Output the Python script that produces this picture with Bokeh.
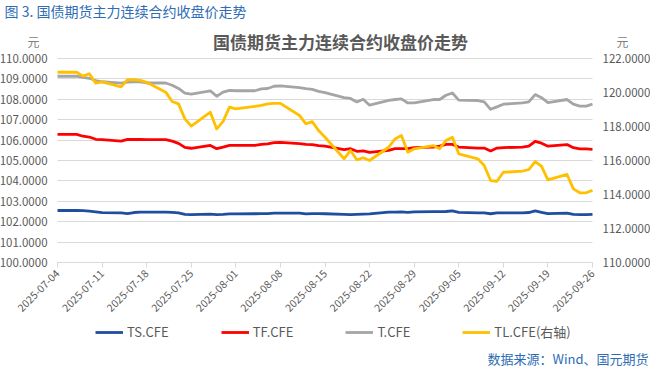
import math
import pandas as pd
from bokeh.plotting import figure
from bokeh.models import (Range1d, LinearAxis, FixedTicker, PrintfTickFormatter,
                          DatetimeTickFormatter, Label, Legend, LegendItem, ColumnDataSource)
from bokeh.embed import file_html
from bokeh.resources import INLINE

# ---------------- data ----------------
dates = [
    "2025-07-04",
    "2025-07-07", "2025-07-08", "2025-07-09", "2025-07-10", "2025-07-11",
    "2025-07-14", "2025-07-15", "2025-07-16", "2025-07-17", "2025-07-18",
    "2025-07-21", "2025-07-22", "2025-07-23", "2025-07-24", "2025-07-25",
    "2025-07-28", "2025-07-29", "2025-07-30", "2025-07-31", "2025-08-01",
    "2025-08-04", "2025-08-05", "2025-08-06", "2025-08-07", "2025-08-08",
    "2025-08-11", "2025-08-12", "2025-08-13", "2025-08-14", "2025-08-15",
    "2025-08-18", "2025-08-19", "2025-08-20", "2025-08-21", "2025-08-22",
    "2025-08-25", "2025-08-26", "2025-08-27", "2025-08-28", "2025-08-29",
    "2025-09-01", "2025-09-02", "2025-09-03", "2025-09-04", "2025-09-05",
    "2025-09-08", "2025-09-09", "2025-09-10", "2025-09-11", "2025-09-12",
    "2025-09-15", "2025-09-16", "2025-09-17", "2025-09-18", "2025-09-19",
    "2025-09-22", "2025-09-23", "2025-09-24", "2025-09-25", "2025-09-26",
]

ts = [102.55,
      102.55, 102.54, 102.52, 102.48, 102.44,
      102.43, 102.40, 102.45, 102.47, 102.47,
      102.47, 102.46, 102.43, 102.36, 102.35,
      102.37, 102.35, 102.36, 102.38, 102.38,
      102.39, 102.40, 102.40, 102.42, 102.42,
      102.42, 102.38, 102.40, 102.40, 102.39,
      102.36, 102.35, 102.36, 102.37, 102.38,
      102.47, 102.47, 102.48, 102.46, 102.48,
      102.49, 102.49, 102.50, 102.53, 102.46,
      102.43, 102.43, 102.39, 102.43, 102.43,
      102.43, 102.45, 102.53, 102.46, 102.40,
      102.42, 102.36, 102.35, 102.35, 102.36]

tf = [106.28,
      106.28, 106.19, 106.15, 106.04, 106.02,
      105.95, 106.04, 106.03, 106.04, 106.02,
      106.02, 105.95, 105.84, 105.64, 105.60,
      105.74, 105.58, 105.66, 105.74, 105.74,
      105.74, 105.79, 105.82, 105.88, 105.89,
      105.83, 105.79, 105.78, 105.73, 105.70,
      105.53, 105.58, 105.45, 105.47, 105.40,
      105.50, 105.58, 105.58, 105.58, 105.63,
      105.66, 105.70, 105.79, 105.79, 105.66,
      105.61, 105.61, 105.47, 105.61, 105.63,
      105.66, 105.70, 105.94, 105.85, 105.70,
      105.78, 105.63, 105.57, 105.57, 105.55]

t = [109.13,
     109.13, 109.07, 109.03, 108.92, 108.86,
     108.79, 108.84, 108.86, 108.86, 108.80,
     108.80, 108.69, 108.53, 108.30, 108.25,
     108.41, 108.15, 108.35, 108.44, 108.42,
     108.42, 108.51, 108.53, 108.64, 108.66,
     108.57, 108.52, 108.49, 108.39, 108.33,
     108.08, 108.04, 107.87, 108.00, 107.71,
     107.95, 107.99, 108.02, 107.82, 107.82,
     107.99, 107.99, 108.20, 108.31, 107.96,
     107.94, 107.87, 107.51, 107.63, 107.76,
     107.82, 107.87, 108.23, 108.08, 107.84,
     107.99, 107.76, 107.67, 107.67, 107.76]

tl = [121.19,
      121.19, 120.96, 121.10, 120.55, 120.62,
      120.33, 120.76, 120.75, 120.71, 120.60,
      120.02, 119.47, 119.33, 118.45, 118.02,
      118.84, 117.86, 118.30, 119.14, 119.04,
      119.18, 119.24, 119.33, 119.36, 119.36,
      118.65, 118.16, 118.29, 117.76, 117.37,
      116.10, 116.59, 116.04, 116.16, 116.00,
      116.78, 117.27, 117.47, 116.49, 116.69,
      116.88, 116.69, 117.18, 117.37, 116.39,
      116.10, 115.71, 114.82, 114.78, 115.31,
      115.37, 115.47, 115.94, 115.65, 114.86,
      115.18, 114.33, 114.10, 114.10, 114.24]

tick_dates = ["2025-07-04", "2025-07-11", "2025-07-18", "2025-07-25", "2025-08-01",
              "2025-08-08", "2025-08-15", "2025-08-22", "2025-08-29", "2025-09-05",
              "2025-09-12", "2025-09-19", "2025-09-26"]
left_ticks = [100, 101, 102, 103, 104, 105, 106, 107, 108, 109, 110]
right_ticks = [110, 112, 114, 116, 118, 120, 122]

series_names = ["TS.CFE", "TF.CFE", "T.CFE", "TL.CFE(右轴)"]
series_colors = ["#1F4E9E", "#FF0000", "#A5A5A5", "#FFC000"]

header_text = "图 3.  国债期货主力连续合约收盘价走势"
title_text = "国债期货主力连续合约收盘价走势"
unit_text = "元"
source_text = "数据来源：Wind、国元期货"

FONT = "Noto Sans CJK SC"
TICK_COLOR = "#595959"
BLUE_TEXT = "#2E6DB5"
GRID_COLOR = "#D9D9D9"

# ---------------- layout (page px) ----------------
# The plotting frame covers the whole canvas; the axes are drawn at fixed
# locations so that titles, legend and note can sit inside the frame.
W, H = 650, 370
PL, PR = 57, 592          # page x of first / last date
Y100, Y110 = 262, 58      # page y of the 100 and 110 gridlines

tick_ms = [pd.Timestamp(d).value / 1e6 for d in tick_dates]
X0, X1 = tick_ms[0], tick_ms[-1]
MSPX = (X1 - X0) / (PR - PL)
LPX = (Y100 - Y110) / (left_ticks[-1] - left_ticks[0])
RPX = (Y100 - Y110) / (right_ticks[-1] - right_ticks[0])


def px_to_x(px):
    return X0 + (px - PL) * MSPX


def py_to_y(py):
    return left_ticks[0] + (Y100 - py) / LPX


def py_to_yr(py):
    return right_ticks[0] + (Y100 - py) / RPX


date_vals = pd.to_datetime(dates)
src = ColumnDataSource(dict(date=date_vals, ts=ts, tf=tf, t=t, tl=tl))

p = figure(width=W, height=H, x_axis_type="datetime",
           x_range=Range1d(px_to_x(0), px_to_x(W)),
           y_range=Range1d(py_to_y(H), py_to_y(0)),
           output_backend="svg", toolbar_location=None,
           min_border=0, min_border_left=0, min_border_right=0,
           min_border_top=0, min_border_bottom=0)
p.outline_line_color = None
p.background_fill_color = "white"
p.border_fill_color = "white"
p.extra_y_ranges = {"right": Range1d(py_to_yr(H), py_to_yr(0))}

# x axis at y = 100
xa = p.xaxis[0]
xa.fixed_location = left_ticks[0]
xa.bounds = (X0, X1)
xa.ticker = FixedTicker(ticks=tick_ms)
fmt = "%Y-%m-%d"
xa.formatter = DatetimeTickFormatter(milliseconds=fmt, seconds=fmt, minsec=fmt, minutes=fmt,
                                     hourmin=fmt, hours=fmt, days=fmt, months=fmt, years=fmt)
xa.major_label_orientation = math.pi / 4
xa.axis_line_color = GRID_COLOR
xa.major_tick_line_color = GRID_COLOR
xa.major_tick_out = 5
xa.major_tick_in = 0
xa.minor_tick_line_color = None
xa.major_label_text_font = FONT
xa.major_label_text_font_size = "10.5px"
xa.major_label_text_color = TICK_COLOR
xa.major_label_standoff = 4

# left axis at the first date, right axis at the last date
ya = p.yaxis[0]
ya.fixed_location = X0
ya.bounds = (left_ticks[0], left_ticks[-1])
ya.ticker = FixedTicker(ticks=left_ticks)
ya.formatter = PrintfTickFormatter(format="%.4f")

ra = LinearAxis(y_range_name="right", ticker=FixedTicker(ticks=right_ticks),
                formatter=PrintfTickFormatter(format="%.4f"))
ra.fixed_location = X1
ra.bounds = (right_ticks[0], right_ticks[-1])
p.add_layout(ra, "right")

for ax in (ya, ra):
    ax.axis_line_color = None
    ax.major_tick_line_color = None
    ax.minor_tick_line_color = None
    ax.major_label_text_font = FONT
    ax.major_label_text_font_size = "11.5px"
    ax.major_label_text_color = TICK_COLOR
    ax.major_label_standoff = 4

# horizontal gridlines only across the date span
p.xgrid.grid_line_color = None
yg = p.ygrid[0]
yg.ticker = FixedTicker(ticks=left_ticks)
yg.grid_line_color = GRID_COLOR
yg.grid_line_width = 1
if "cross_bounds" in yg.properties():
    yg.cross_bounds = (X0, X1)
else:
    yg.grid_line_color = None
    p.segment(x0=[date_vals[0]] * len(left_ticks), x1=[date_vals[-1]] * len(left_ticks),
              y0=left_ticks, y1=left_ticks, line_color=GRID_COLOR, line_width=1)

# series
renderers = []
for col, color in zip(["ts", "tf", "t"], series_colors[:3]):
    r = p.line(x="date", y=col, source=src, line_color=color, line_width=2.8,
               line_join="round")
    renderers.append(r)
r = p.line(x="date", y="tl", source=src, line_color=series_colors[3], line_width=2.8,
           line_join="round", y_range_name="right")
renderers.append(r)


def put(text, fx, fy, size, color, align="left", weight="normal"):
    p.add_layout(Label(x=px_to_x(fx), y=py_to_y(fy), text=text, text_font=FONT,
                       text_font_size=size, text_color=color, text_align=align,
                       text_baseline="middle", text_font_style=weight))


put(header_text, 4, 10, "14px", BLUE_TEXT)
put(title_text, 340, 41, "17px", "#595959", align="center", weight="bold")
put(unit_text, 33, 41, "12px", "#808080", align="center")
put(unit_text, 622, 41, "12px", "#808080", align="center")
put(source_text, 648, 358, "13px", BLUE_TEXT, align="right")

legend = Legend(items=[LegendItem(label=n, renderers=[rr]) for n, rr in zip(series_names, renderers)],
                location=(95, H - 333 - 8), orientation="horizontal",
                spacing=52, glyph_width=28, glyph_height=16, label_standoff=4,
                padding=0, margin=0, border_line_color=None, background_fill_alpha=0,
                label_text_font=FONT, label_text_font_size="13px",
                label_text_color=TICK_COLOR, label_height=16)
p.add_layout(legend)

open("out.html", "w").write(file_html(p, INLINE))
